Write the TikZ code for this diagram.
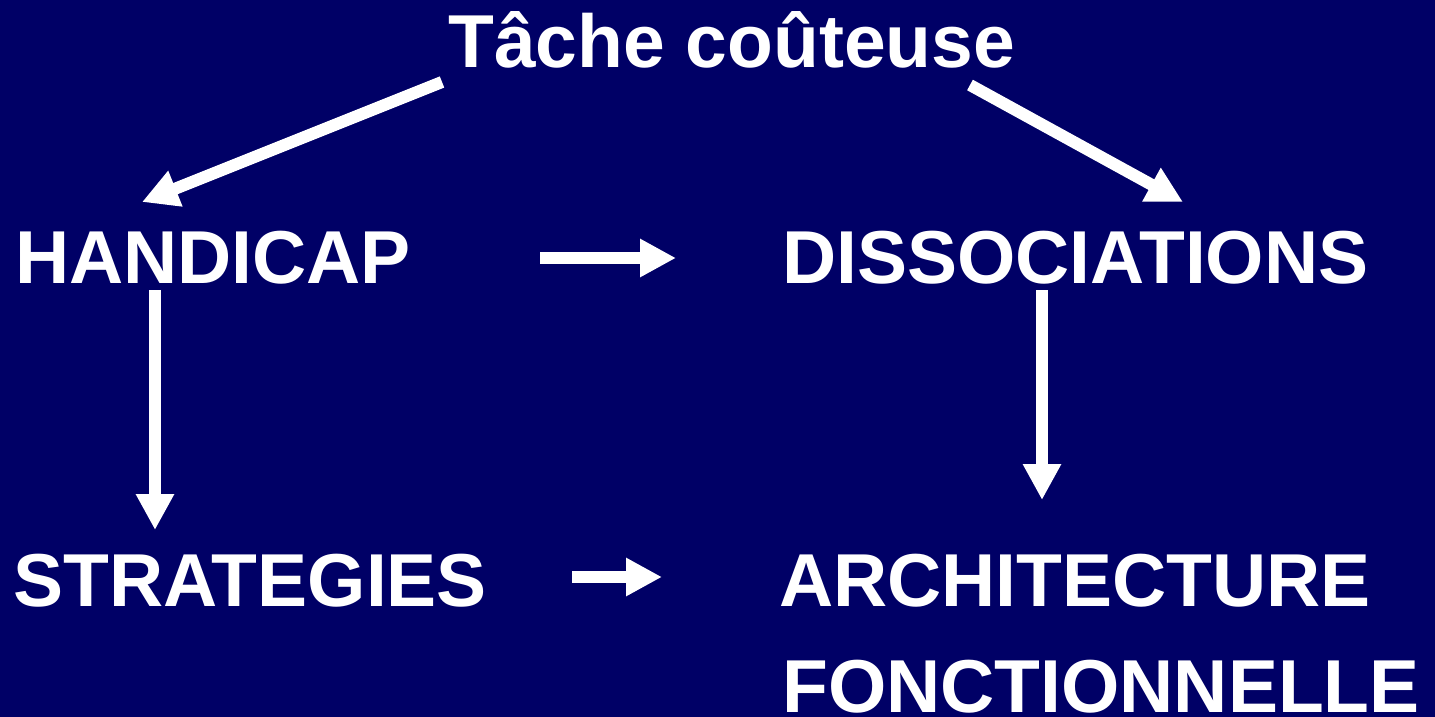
\documentclass[tikz,border=0pt]{standalone}
\usepackage{fontspec}
\setmainfont{Liberation Sans}
\usetikzlibrary{arrows.meta,calc}
\definecolor{navy}{HTML}{000066}
\tikzset{
  lbl/.style={anchor=base west, inner sep=0pt, text=white,
    font=\fontsize{75pt}{90pt}\selectfont\bfseries},
  arr/.style={draw=white, line width=12pt,
    -{Triangle[width=36pt,length=36pt]}}
}
\begin{document}
\begin{tikzpicture}[x=1pt,y=-1pt]
\fill[navy] (0,0) rectangle (1435,717);
\useasboundingbox (0,0) rectangle (1435,717);
\node[lbl] (tache) at (448,67) {Tâche coûteuse};
\node[lbl] (handicap) at (15,283) {HANDICAP};
\node[lbl] (dissoc) at (782,283) {DISSOCIATIONS};
\node[lbl] (strat) at (13,606) {STRATEGIES};
\node[lbl] (archi) at (779,606) {ARCHITECTURE};
\node[lbl] (fonct) at (782,712) {FONCTIONNELLE};
\draw[arr] ($(tache.base west)+(-6,15)$) -- ($(handicap.base west)+(127,-81)$);
\draw[arr] ($(tache.base west)+(522,18)$) -- ($(dissoc.base west)+(401,-81)$);
\draw[arr] ($(handicap.base west)+(525,-25)$) -- ($(dissoc.base west)+(-106,-25)$);
\draw[arr] ($(strat.base west)+(559,-29)$) -- ($(archi.base west)+(-117,-29)$);
\draw[arr] ($(handicap.base west)+(140,7)$) -- ($(strat.base west)+(142,-76)$);
\draw[arr] ($(dissoc.base west)+(260,7)$) -- ($(archi.base west)+(263,-106)$);
\end{tikzpicture}
\end{document}
